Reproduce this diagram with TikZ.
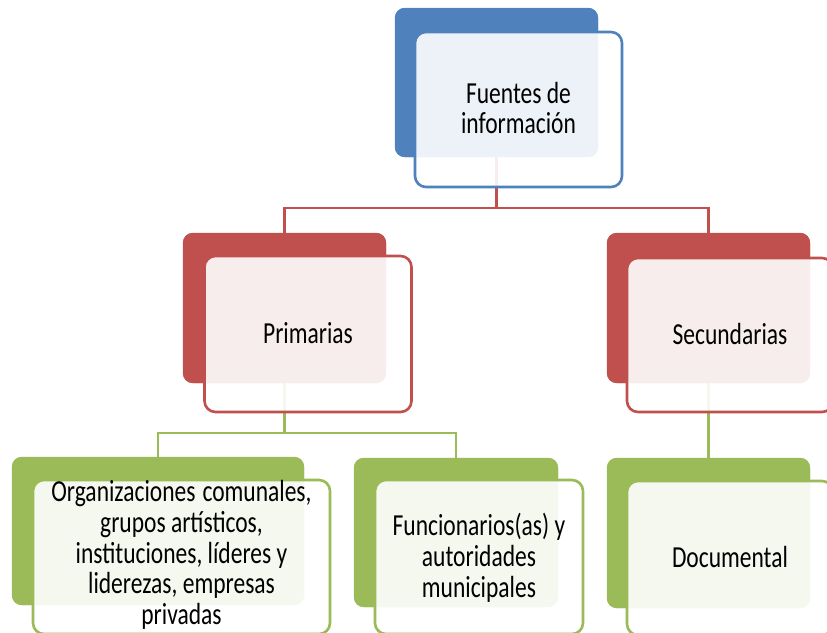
\documentclass[tikz,border=0pt]{standalone}
\usepackage{fontspec}
\usepackage{graphicx}
\setmainfont{Carlito}
\definecolor{cblue}{HTML}{4F81BD}
\definecolor{cred}{HTML}{C0504D}
\definecolor{cgreen}{HTML}{9BBB59}
\newcommand\boxtxt[2][-3pt]{\raisebox{#1}[\height][\depth]{\scalebox{1}[1.3]{\begin{tabular}{@{}c@{}}#2\end{tabular}}}}
\begin{document}
\begin{tikzpicture}[x=1pt,y=-1pt,
  backbox/.style={rectangle, rounded corners=10pt, fill=#1, draw=none, inner sep=0pt},
  frontbox/.style={rectangle, rounded corners=11pt, draw=#1, line width=2.6pt, fill=white, fill opacity=0.9, text opacity=1, align=center, inner sep=0pt, font=\fontsize{23.5}{23.6}\selectfont},
  conn/.style={draw=#1, line width=2.8pt},
]
\useasboundingbox (0,0) rectangle (827,632);
\clip (0,0) rectangle (827,632);
\fill[white] (0,0) rectangle (827,632);

% back boxes
\node[backbox=cblue, minimum width=203pt, minimum height=149pt] (topb) at (496.5,82.5) {};
\node[backbox=cred, minimum width=203pt, minimum height=150pt] (primb) at (284.5,308) {};
\node[backbox=cred, minimum width=203pt, minimum height=150pt] (secb) at (708.5,308) {};
\node[backbox=cgreen, minimum width=292pt, minimum height=148pt] (orgb) at (158,531) {};
\node[backbox=cgreen, minimum width=204pt, minimum height=149pt] (funb) at (456,532.5) {};
\node[backbox=cgreen, minimum width=203pt, minimum height=150pt] (docb) at (708.5,533) {};

% connectors
\coordinate (j1) at (496.5,208);
\coordinate (j2) at (284.5,433);
\draw[conn=cred] (topb.south) -- (j1) -| (primb.north);
\draw[conn=cred] (j1) -| (secb.north);
\draw[conn=cgreen] (primb.south) -- (j2) -| (orgb.north);
\draw[conn=cgreen] (j2) -| (funb.north);
\draw[conn=cgreen] (secb.south) -- (docb.north);

% redraw back boxes above connectors
\fill[cblue, rounded corners=10pt] (topb.south west) rectangle (topb.north east);
\fill[cred, rounded corners=10pt] (primb.south west) rectangle (primb.north east);
\fill[cred, rounded corners=10pt] (secb.south west) rectangle (secb.north east);
\fill[cgreen, rounded corners=10pt] (orgb.south west) rectangle (orgb.north east);
\fill[cgreen, rounded corners=10pt] (funb.south west) rectangle (funb.north east);
\fill[cgreen, rounded corners=10pt] (docb.south west) rectangle (docb.north east);

% front boxes
\node[frontbox=cblue, minimum width=207pt, minimum height=155pt] (topf) at (518.5,109.5) {\boxtxt{Fuentes de\\información}};
\node[frontbox=cred, minimum width=207pt, minimum height=156pt] (primf) at (308,334) {\boxtxt{Primarias}};
\node[frontbox=cred, minimum width=206pt, minimum height=154pt] (secf) at (730,335) {\boxtxt{Secundarias}};
\node[frontbox=cgreen, minimum width=297pt, minimum height=154pt] (orgf) at (181.5,557) {\boxtxt[0pt]{Organizaciones\hspace{7pt}comunales,\\grupos artísticos,\\instituciones, líderes y\\liderezas, empresas\\privadas}};
\node[frontbox=cgreen, minimum width=208pt, minimum height=154pt] (funf) at (479,557) {\boxtxt{Funcionarios(as) y\\autoridades\\municipales}};
\node[frontbox=cgreen, minimum width=206pt, minimum height=154pt] (docf) at (730,558) {\boxtxt{Documental}};
\end{tikzpicture}
\end{document}
